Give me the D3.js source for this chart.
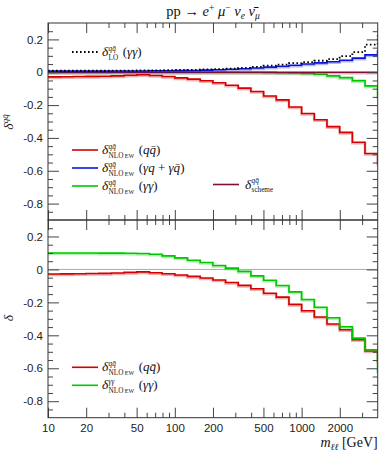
<!DOCTYPE html>
<html>
<head>
<meta charset="utf-8">
<script src="https://cdn.jsdelivr.net/npm/d3@7"></script>
<style>
  body { margin: 0; background: #fff; }
  svg { display: block; font-family: "Liberation Serif", "DejaVu Serif", serif; }
  .tick line { stroke: #444; }
  .tick text { font-size: 11.5px; fill: #222; }
</style>
</head>
<body>
<svg id="chart" width="390" height="451"></svg>
<script>
/* global d3 */

// bin edges in m_ll [GeV], 0.1 decade bins (last bin lies past the frame)
const xEdges = [10, 12.59, 15.85, 19.95, 25.12, 31.62, 39.81, 50.12, 63.10, 79.43, 100, 125.9, 158.5, 199.5,
  251.2, 316.2, 398.1, 501.2, 631.0, 794.3, 1000, 1259, 1585, 1995, 2512, 3162, 3981, 5012]

// top panel: delta^{qqbar}
const nloQQ = [-0.028, -0.027, -0.026, -0.025, -0.024, -0.022, -0.018, -0.015, -0.020, -0.026, -0.034, -0.042, -0.052,
  -0.064, -0.079, -0.097, -0.117, -0.145, -0.168, -0.212, -0.251, -0.289, -0.331, -0.366, -0.426, -0.495, -0.556]
const nloGQ = [0.007, 0.007, 0.007, 0.007, 0.007, 0.008, 0.008, 0.008, 0.009, 0.009, 0.010, 0.011, 0.013,
  0.015, 0.018, 0.021, 0.026, 0.031, 0.037, 0.043, 0.050, 0.057, 0.064, 0.073, 0.086, 0.106, 0.130]
const nloGGtop = [0, 0, 0, 0, 0, 0, 0, 0, 0, 0, 0, 0, 0,
  0, 0, 0, 0, -0.001, -0.003, -0.004, -0.008, -0.012, -0.022, -0.033, -0.051, -0.083, -0.150]
const loGG = [0.009, 0.009, 0.009, 0.009, 0.009, 0.010, 0.010, 0.011, 0.012, 0.013, 0.014, 0.015, 0.017,
  0.019, 0.022, 0.027, 0.033, 0.040, 0.047, 0.055, 0.062, 0.070, 0.080, 0.098, 0.122, 0.168, 0.220]
const scheme = [0, 0, 0, 0, 0, 0, 0, 0, 0, 0, 0, 0, 0,
  0, 0, 0, 0, 0, 0, 0, 0, 0, 0, 0, 0, 0, 0]

// bottom panel: delta
const nloGGbot = [0.100, 0.100, 0.100, 0.100, 0.099, 0.099, 0.098, 0.097, 0.092, 0.082, 0.070, 0.056, 0.042,
  0.024, 0.008, -0.012, -0.039, -0.066, -0.098, -0.136, -0.183, -0.230, -0.293, -0.348, -0.417, -0.488, -0.620]

// ticks
const xTickLabels = [10, 20, 50, 100, 200, 500, 1000, 2000]
const xMinorTicks = [30, 40, 60, 70, 80, 90, 300, 400, 600, 700, 800, 900, 3000]
const yTickLabels = [0.2, 0, -0.2, -0.4, -0.6, -0.8]
const yMinorTicks = [0.25, 0.15, 0.1, 0.05, -0.05, -0.1, -0.15, -0.25, -0.3, -0.35, -0.45, -0.5, -0.55,
  -0.65, -0.7, -0.75, -0.85]

const left = 48
const right = 377.7
const top1 = 23
const mid = 220
const bottom = 417.7

const svg = d3.select('#chart')

const x = d3.scaleLog().domain([10, 3981]).range([left, right])
const yTop = d3.scaleLinear().domain([-0.9, 0.3]).range([mid, top1])
const yBot = d3.scaleLinear().domain([-0.9, 0.3]).range([bottom, mid])

function steps (vals) {
  return vals.flatMap((v, i) => [[xEdges[i], v], [xEdges[i + 1], v]])
}

function clip (id, y0, y1) {
  svg.append('defs').append('clipPath').attr('id', id)
    .append('rect').attr('x', left).attr('y', y0).attr('width', right - left).attr('height', y1 - y0)
}
clip('clipTop', top1, mid)
clip('clipBot', mid, bottom)

function hist (g, y, vals, color, dash) {
  const line = d3.line().x(d => x(d[0])).y(d => y(d[1]))
  if (!dash) {
    // faint shadow the way the original renders it
    g.append('path').datum(steps(vals)).attr('d', line)
      .attr('transform', 'translate(0,1)')
      .style('fill', 'none').style('stroke', color).style('stroke-opacity', 0.3).style('stroke-width', 2.6)
  }
  const p = g.append('path').datum(steps(vals)).attr('d', line)
    .style('fill', 'none').style('stroke', color).style('stroke-width', dash ? 1.8 : 1.6)
  if (dash) p.style('stroke-dasharray', '1.6,2.4')
}

// bottom zero line
svg.append('line')
  .attr('x1', left).attr('x2', right).attr('y1', yBot(0)).attr('y2', yBot(0))
  .style('stroke', '#aaa').style('stroke-width', 1)

const gTop = svg.append('g').attr('clip-path', 'url(#clipTop)')
hist(gTop, yTop, nloGGtop, '#00c800')
hist(gTop, yTop, scheme, '#7d1030')
hist(gTop, yTop, nloGQ, '#0a14d8')
hist(gTop, yTop, nloQQ, '#d40000')
hist(gTop, yTop, loGG, '#000', true)

const gBot = svg.append('g').attr('clip-path', 'url(#clipBot)')
hist(gBot, yBot, nloQQ, '#d40000')
hist(gBot, yBot, nloGGbot, '#00c800')

// axes
function yAxes (y) {
  svg.append('g').attr('transform', `translate(${left},0)`)
    .call(d3.axisLeft(y).tickValues(yTickLabels).tickSize(-11).tickPadding(5).tickFormat(d => String(d)))
    .call(g => g.select('.domain').remove())
  svg.append('g').attr('transform', `translate(${left},0)`)
    .call(d3.axisLeft(y).tickValues(yMinorTicks).tickSize(-5).tickFormat(''))
    .call(g => g.select('.domain').remove())
  svg.append('g').attr('transform', `translate(${right},0)`)
    .call(d3.axisRight(y).tickValues(yTickLabels).tickSize(-11).tickFormat(''))
    .call(g => g.select('.domain').remove())
  svg.append('g').attr('transform', `translate(${right},0)`)
    .call(d3.axisRight(y).tickValues(yMinorTicks).tickSize(-5).tickFormat(''))
    .call(g => g.select('.domain').remove())
}
yAxes(yTop)
yAxes(yBot)

function xAxis (fn, yPos, size, labels) {
  svg.append('g').attr('transform', `translate(0,${yPos})`)
    .call(fn(x).tickValues(xTickLabels).tickSize(size).tickPadding(6).tickFormat(labels ? d3.format('d') : ''))
    .call(g => g.select('.domain').remove())
  svg.append('g').attr('transform', `translate(0,${yPos})`)
    .call(fn(x).tickValues(xMinorTicks).tickSize(size / 2).tickFormat(''))
    .call(g => g.select('.domain').remove())
}
xAxis(d3.axisTop, top1, -10, false)
xAxis(d3.axisTop, mid, -10, false)
xAxis(d3.axisBottom, mid, -10, false)
xAxis(d3.axisBottom, bottom, -10, true)

// frames
svg.append('rect').attr('x', left).attr('y', top1).attr('width', right - left).attr('height', mid - top1)
  .style('fill', 'none').style('stroke', '#333').style('stroke-width', 1)
svg.append('rect').attr('x', left).attr('y', mid).attr('width', right - left).attr('height', bottom - mid)
  .style('fill', 'none').style('stroke', '#333').style('stroke-width', 1)

// text helpers
const QB = 'q\u0304'

function width (sel) { return sel.node().getComputedTextLength() }

function deltaText (g, x0, y0, sup, subHtml, argHtml) {
  let cx = x0
  const d = g.append('text').attr('x', cx).attr('y', y0).style('font-style', 'italic').style('font-size', '13.5px').text('δ')
  cx += width(d) + 0.3
  const s1 = g.append('text').attr('x', cx).attr('y', y0 - 5.5).style('font-style', 'italic').style('font-size', '7.2px').text(sup)
  const s2 = g.append('text').attr('x', cx).attr('y', y0 + 3.8).style('font-size', '7.2px').html(subHtml)
  cx += Math.max(width(s1), width(s2)) + 4.5
  if (argHtml) g.append('text').attr('x', cx).attr('y', y0).style('font-size', '13px').html(argHtml)
}

function legendLine (g, x0, y0, color, dash) {
  const l = g.append('line').attr('x1', x0).attr('x2', x0 + 26).attr('y1', y0).attr('y2', y0)
    .style('stroke', color).style('stroke-width', dash ? 1.8 : 1.6)
  if (dash) l.style('stroke-dasharray', '1.6,2.4')
}

const NLO = 'NLO<tspan font-size="6px"> EW</tspan>'
const it = s => `<tspan font-style="italic">${s}</tspan>`

const leg = svg.append('g').style('fill', '#111')
legendLine(leg, 72, 52, '#000', true)
deltaText(leg, 102, 56, 'qq\u0304', 'LO', `(${it('γγ')})`)

legendLine(leg, 72, 150, '#d40000')
deltaText(leg, 102, 154, 'qq\u0304', NLO, `(${it('q' + QB)})`)
legendLine(leg, 72, 168, '#0a14d8')
deltaText(leg, 102, 172, 'qq\u0304', NLO, `(${it('γq')} + ${it('γ' + QB)})`)
legendLine(leg, 72, 186, '#00c800')
deltaText(leg, 102, 190, 'qq\u0304', NLO, `(${it('γγ')})`)
legendLine(leg, 213, 184.5, '#7d1030')
deltaText(leg, 245, 188.5, 'qq\u0304', 'scheme', null)

legendLine(leg, 72, 367.3, '#d40000')
deltaText(leg, 102, 371.3, 'qq\u0304', NLO, `(${it('q' + QB)})`)
legendLine(leg, 72, 385.3, '#00c800')
deltaText(leg, 102, 389.3, 'γγ', NLO, `(${it('γγ')})`)

// title
svg.append('text').attr('x', 213).attr('y', 16).attr('text-anchor', 'middle')
  .style('font-size', '14.5px').style('fill', '#111')
  .html('pp → ' + it('e') + '<tspan dy="-5" font-size="9.5px">+</tspan>' +
    '<tspan dy="5"> </tspan>' + it('μ') + '<tspan dy="-5" font-size="9.5px">−</tspan>' +
    '<tspan dy="5"> </tspan>' + it('ν') + '<tspan dy="3" font-size="9.5px" font-style="italic">e</tspan>' +
    '<tspan dy="-3"> </tspan>' + it('ν\u0304') + '<tspan dy="3" font-size="9.5px" font-style="italic">μ</tspan>')

// axis titles
svg.append('text').attr('transform', 'translate(13,122) rotate(-90)').attr('text-anchor', 'middle')
  .style('font-size', '13.5px').style('fill', '#111')
  .html(it('δ') + '<tspan dy="-5" font-size="9px" font-style="italic">qq\u0304</tspan>')
svg.append('text').attr('transform', 'translate(13,318) rotate(-90)').attr('text-anchor', 'middle')
  .style('font-size', '13.5px').style('fill', '#111')
  .html(it('δ'))
svg.append('text').attr('x', right).attr('y', 447).attr('text-anchor', 'end')
  .style('font-size', '14px').style('fill', '#111')
  .html(it('m') + '<tspan dy="3" font-size="9.5px" font-style="italic">ℓℓ</tspan><tspan dy="-3"> [GeV]</tspan>')
</script>
</body>
</html>
